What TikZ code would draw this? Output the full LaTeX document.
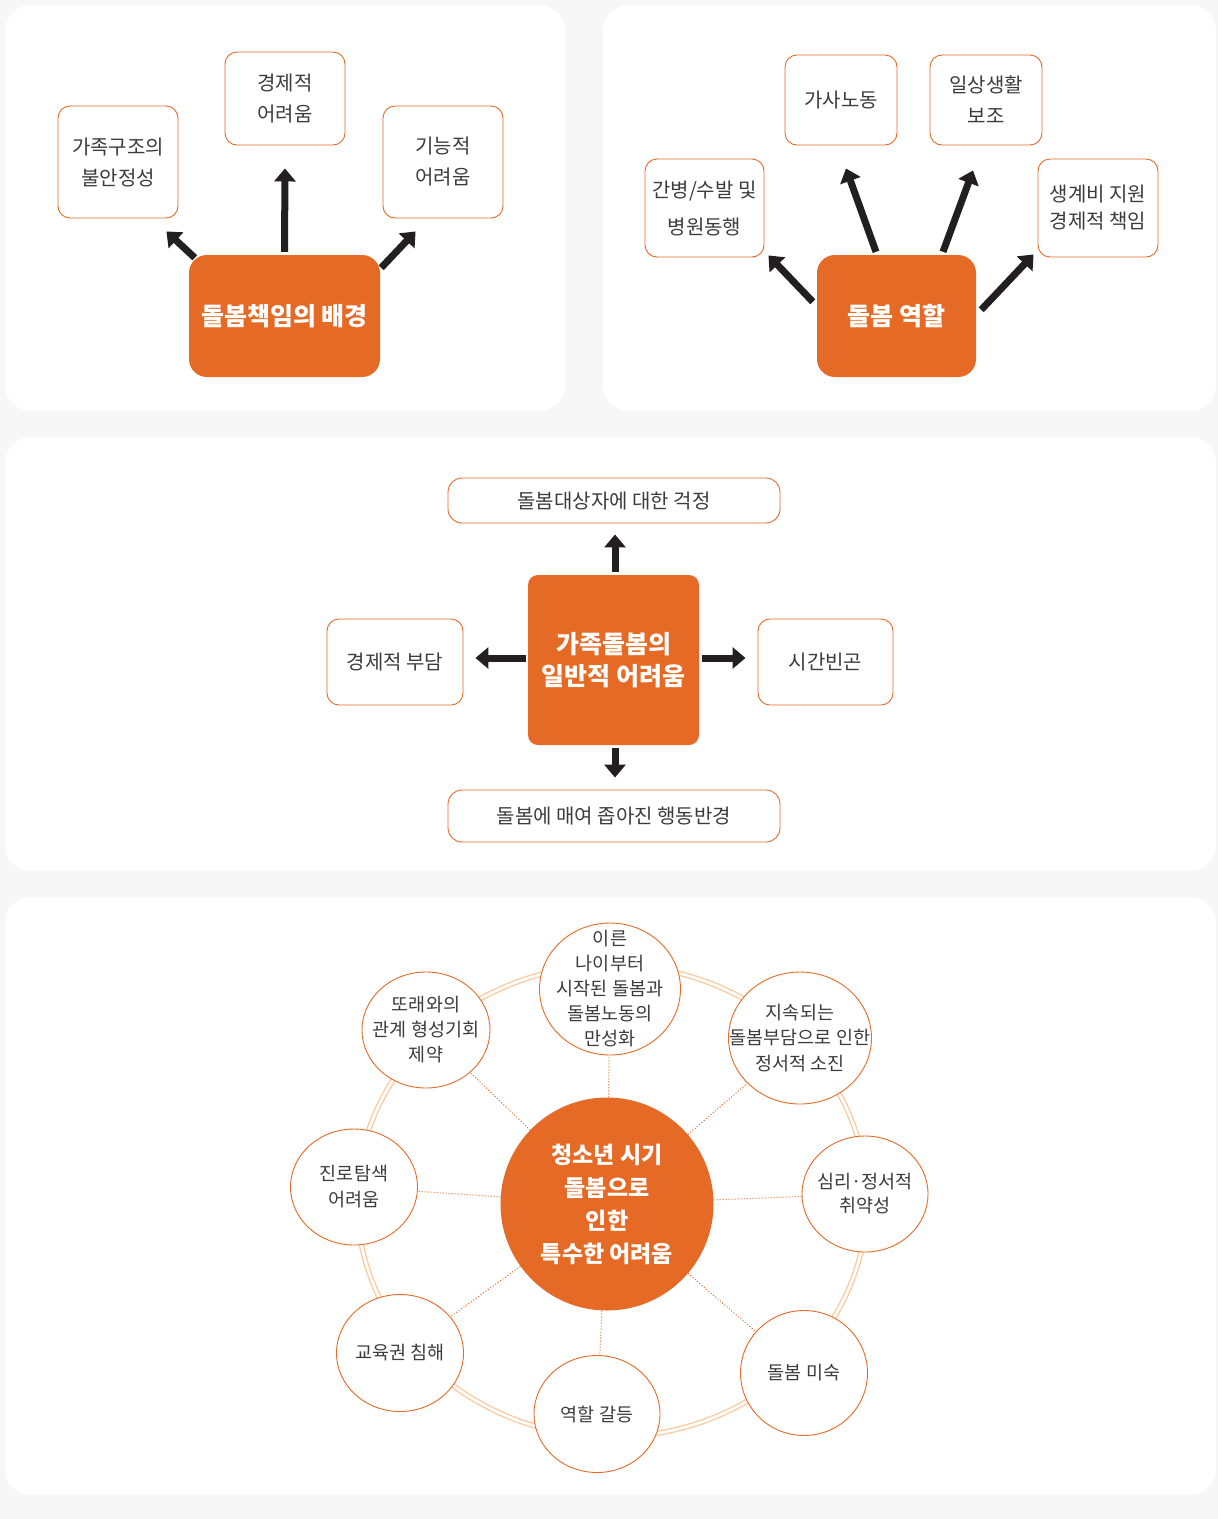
\documentclass[tikz,border=0pt]{standalone}
\usepackage{fontspec}
\setmainfont{Noto Sans CJK KR}
\usetikzlibrary{arrows.meta,shapes.geometric}
\definecolor{carrot}{HTML}{E46A26}
\definecolor{ink}{HTML}{3C3C3C}
\definecolor{arrowink}{HTML}{231F20}
\definecolor{ringorange}{HTML}{FBCBA2}
\definecolor{pagegray}{HTML}{F6F7F6}
\tikzset{
    panel/.style = {
        fill = white,
        rounded corners = 26,
        },
    sbox/.style = {
        draw = carrot,
        line width = 0.9pt,
        fill = white,
        rounded corners = 12,
        text = ink,
        align = center,
        inner sep = 0pt,
        font = \fontsize{20}{31}\selectfont,
        },
    core/.style = {
        fill = carrot,
        rounded corners = 18,
        text = white,
        align = center,
        inner sep = 0pt,
        font = \bfseries\fontsize{25}{32}\selectfont,
        },
    push/.style = {
        draw = arrowink,
        line width = 7,
        -{Triangle[width=21pt,length=13pt]},
        },
    bub/.style = {
        ellipse,
        draw = carrot,
        line width = 0.9pt,
        fill = white,
        inner sep = 0pt,
        minimum width = 127,
        minimum height = 117,
        },
    bubtext/.style = {
        text = ink,
        align = center,
        font = \fontsize{18.5}{25}\selectfont,
        },
    spoke/.style = {
        draw = carrot,
        dotted,
        line width = 1pt,
        },
    ring/.style = {
        draw = ringorange,
        line width = 1.4pt,
        double = white,
        double distance = 2.6pt,
        },
}
\begin{document}
\begin{tikzpicture}[x=1pt, y=-1pt]
    \useasboundingbox (0,0) rectangle (1218,1519);
    \fill[pagegray] (0,0) rectangle (1218,1519);
    \fill[panel] (5,5) rectangle (565,411);
    \fill[panel] (603,5) rectangle (1216,411);
    \fill[panel] (5,437) rectangle (1216,871);
    \fill[panel] (5,897) rectangle (1216,1495);

    % background of care responsibility
    \node[sbox, minimum width=120, minimum height=112] (fam) at (118,162) {가족구조의\\불안정성};
    \node[sbox, minimum width=120, minimum height=93] (eco) at (285,98.5) {경제적\\어려움};
    \node[sbox, minimum width=120, minimum height=112] (fun) at (443,162) {기능적\\어려움};
    \node[core, minimum width=191, minimum height=122] (bg) at (284.5,316) {돌봄책임의 배경};

    \draw[push] ([shift={(6,3)}]bg.north west) -- ([shift={(-12,13)}]fam.south east);
    \draw[push] ([shift={(0,-3)}]bg.north) -- ([shift={(0,23)}]eco.south);
    \draw[push] ([shift={(1,13)}]bg.north east) -- ([shift={(33,13)}]fun.south west);

    % care roles
    \node[sbox, minimum width=119, minimum height=98, font=\fontsize{20}{37}\selectfont] (care) at (704.5,208) {간병/수발 및\\병원동행};
    \node[sbox, minimum width=112, minimum height=90] (house) at (841,100) {가사노동};
    \node[sbox, minimum width=112, minimum height=90] (daily) at (986,100) {일상생활\\보조};
    \node[sbox, minimum width=120, minimum height=98, font=\fontsize{20}{27}\selectfont] (money) at (1098,208) {생계비 지원\\경제적 책임};
    \node[core, minimum width=159, minimum height=122] (role) at (896.5,316) {돌봄 역할};

    \draw[push] ([shift={(-4,47)}]role.north west) -- ([shift={(4,-2)}]care.south east);
    \draw[push] ([shift={(-20.5,-3)}]role.north) -- ([shift={(5,23)}]house.south);
    \draw[push] ([shift={(46.5,-3)}]role.north) -- ([shift={(-13,25)}]daily.south);
    \draw[push] ([shift={(5,55)}]role.north east) -- ([shift={(-4,-3)}]money.south west);

    % general difficulties
    \node[sbox, rounded corners=14, minimum width=332, minimum height=45] (worry) at (614,500.5) {돌봄대상자에 대한 걱정};
    \node[sbox, minimum width=136, minimum height=86] (cost) at (395,662) {경제적 부담};
    \node[sbox, minimum width=135, minimum height=86] (time) at (825.5,662) {시간빈곤};
    \node[sbox, rounded corners=14, minimum width=332, minimum height=52] (bound) at (614,816) {돌봄에 매여 좁아진 행동반경};
    \node[core, rounded corners=10, minimum width=171, minimum height=170] (hard) at (613.5,660) {가족돌봄의\\일반적 어려움};

    \draw[push] ([shift={(1.5,-3)}]hard.north) -- ([shift={(1,11)}]worry.south);
    \draw[push] ([shift={(-2,-2)}]hard.west) -- ([shift={(12,-4)}]cost.east);
    \draw[push] ([shift={(3,-2)}]hard.east) -- ([shift={(-12,-4)}]time.west);
    \draw[push] ([shift={(1.5,3)}]hard.south) -- ([shift={(1,-12)}]bound.north);

    % youth difficulties
    \draw[ring] (612,1201) ellipse [x radius=255, y radius=236];

    \node[circle, fill=carrot, minimum size=213, inner sep=0pt, text=white, align=center,
          font=\bfseries\fontsize{23}{33}\selectfont] (kid) at (607,1204) {청소년 시기\\돌봄으로\\인한\\특수한 어려움};

    \node[bub, minimum width=141, minimum height=132, label={[bubtext]center:이른\\나이부터\\시작된 돌봄과\\돌봄노동의\\만성화}] (c1) at (610,989) {};
    \node[bub, minimum width=143, minimum height=132, label={[bubtext, font=\fontsize{18.5}{25.5}\selectfont]center:지속되는\\돌봄부담으로 인한\\정서적 소진}] (c2) at (800,1038) {};
    \node[bub, minimum width=126, minimum height=116, label={[bubtext, font=\fontsize{18.5}{24}\selectfont]center:심리·정서적\\취약성}] (c3) at (865,1194) {};
    \node[bub, minimum height=125, label={[bubtext]center:돌봄 미숙}] (c4) at (804,1373) {};
    \node[bub, minimum width=126, label={[bubtext]center:역할 갈등}] (c5) at (597,1414) {};
    \node[bub, label={[bubtext]center:교육권 침해}] (c6) at (400,1353) {};
    \node[bub, minimum height=116, label={[bubtext, font=\fontsize{18.5}{26}\selectfont]center:진로탐색\\어려움}] (c7) at (354,1187) {};
    \node[bub, minimum width=128, minimum height=116, label={[bubtext]center:또래와의\\관계 형성기회\\제약}] (c8) at (426,1030) {};

    \foreach \n in {c1,c2,c3,c4,c5,c6,c7,c8}
        \draw[spoke] (kid) -- (\n);
\end{tikzpicture}
\end{document}
